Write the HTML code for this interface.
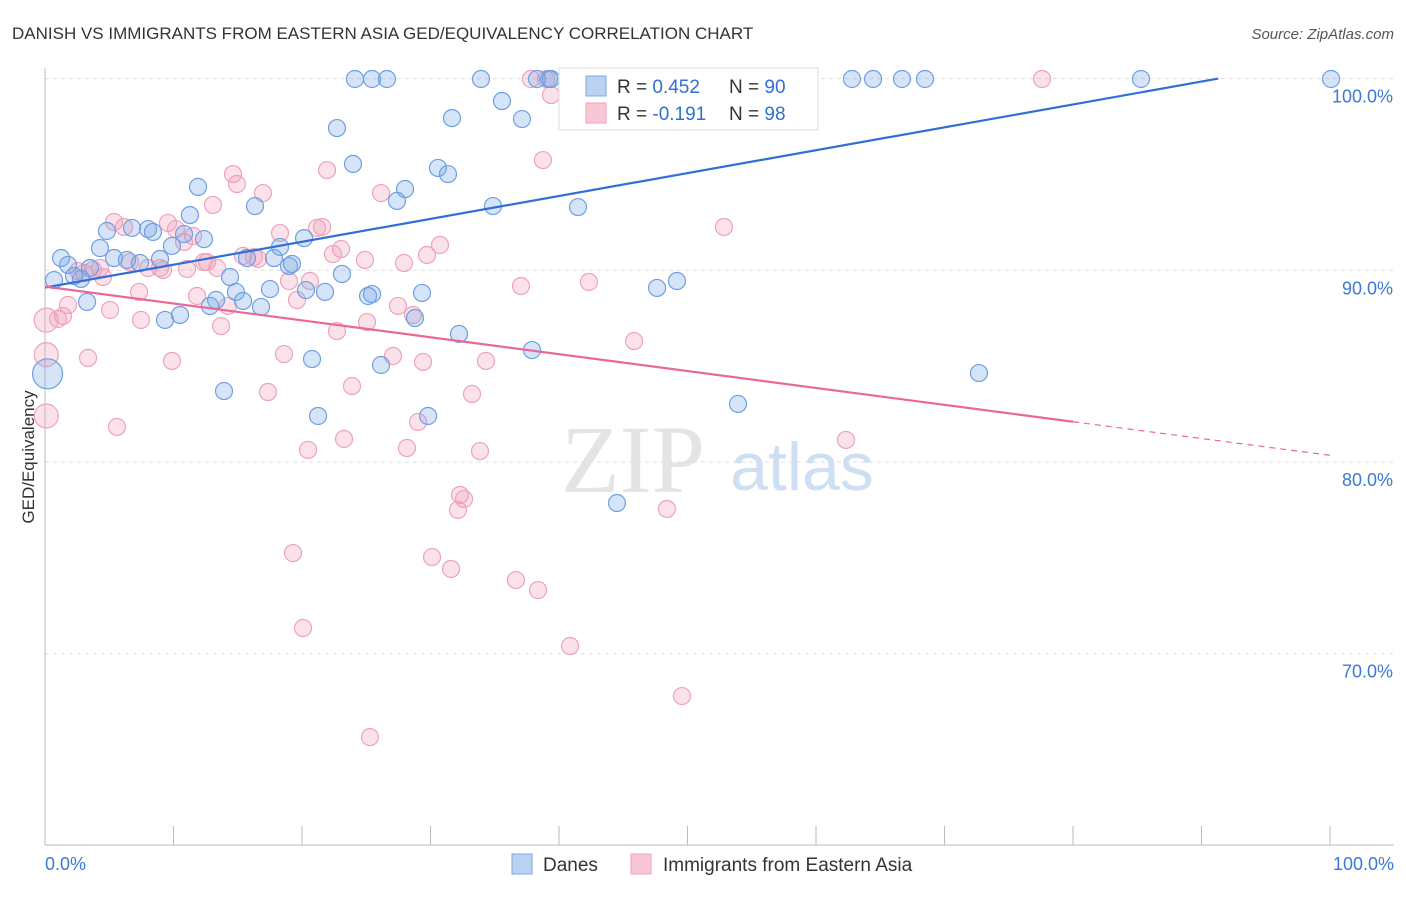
<!DOCTYPE html>
<html><head><meta charset="utf-8"><style>
body{margin:0;background:#fff;font-family:"Liberation Sans",sans-serif;}
</style></head><body>
<svg id="chart" width="1406" height="892" xmlns="http://www.w3.org/2000/svg">
<text x="12" y="39" font-size="17" fill="#333">DANISH VS IMMIGRANTS FROM EASTERN ASIA GED/EQUIVALENCY CORRELATION CHART</text>
<text x="1394" y="39" font-size="15" fill="#555" font-style="italic" text-anchor="end">Source: ZipAtlas.com</text>
<text transform="translate(34,457) rotate(-90)" font-size="17" fill="#333" text-anchor="middle">GED/Equivalency</text>
<g><text x="633" y="492" font-size="96" font-family="Liberation Serif,serif" fill="#e4e4e4" text-anchor="middle">ZIP</text><text x="802" y="490" font-size="68" fill="#cfdff3" text-anchor="middle">atlas</text></g>
<g id="grid"></g><g id="pts"></g><g id="lines"></g>
<g>
<rect x="559" y="68" width="259" height="62" fill="#fff" stroke="#ddd"/>
<rect x="586" y="76" width="20" height="20" fill="#b9d2f3" stroke="#7fa8e0"/>
<rect x="586" y="103" width="20" height="20" fill="#f8c6d5" stroke="#eca3ba"/>
<text x="617" y="93" font-size="19" fill="#333">R = <tspan fill="#2f6fd6">0.452</tspan></text>
<text x="729" y="93" font-size="19" fill="#333">N = <tspan fill="#2f6fd6">90</tspan></text>
<text x="617" y="120" font-size="19" fill="#333">R = <tspan fill="#2f6fd6">-0.191</tspan></text>
<text x="729" y="120" font-size="19" fill="#333">N = <tspan fill="#2f6fd6">98</tspan></text>
</g>
<g>
<rect x="512" y="854" width="20" height="20" fill="#b9d2f3" stroke="#7fa8e0"/>
<text x="543" y="871" font-size="19" fill="#333">Danes</text>
<rect x="631" y="854" width="20" height="20" fill="#f8c6d5" stroke="#eca3ba"/>
<text x="663" y="871" font-size="19" fill="#333">Immigrants from Eastern Asia</text>
</g>
<text x="45" y="870" font-size="18" fill="#3c78d8">0.0%</text>
<text x="1394" y="870" font-size="18" fill="#3c78d8" text-anchor="end">100.0%</text>
</svg>
<script>
const yTicks=[100,90,80,70];
const blueX=[],blueY=[],pinkX=[],pinkY=[];
const bluePx=[[355,79],[372,79],[387,79],[481,79],[537,79],[549,79],[551,79],[852,79],[873,79],[902,79],[925,79],[1141,79],[1331,79],[502,101],[522,119],[452,118],[337,128],[353,164],[438,168],[448,174],[405,189],[397,201],[198,187],[255,206],[190,215],[578,207],[493,206],[107,231],[132,228],[148,229],[153,232],[184,234],[204,239],[100,248],[172,246],[304,238],[280,247],[61,258],[68,265],[114,258],[127,260],[140,263],[160,259],[247,258],[274,258],[289,266],[292,264],[81,279],[54,280],[74,276],[342,274],[230,277],[236,292],[270,289],[306,290],[325,292],[368,296],[372,294],[422,293],[657,288],[677,281],[87,302],[216,300],[210,306],[243,301],[261,307],[180,315],[165,320],[415,318],[459,334],[532,350],[312,359],[381,365],[224,391],[979,373],[318,416],[428,416],[738,404],[617,503],[90,268]];
const pinkPx=[[531,79],[546,79],[1042,79],[551,95],[543,160],[233,174],[237,184],[263,193],[327,170],[381,193],[213,205],[114,222],[124,227],[168,223],[176,229],[193,236],[184,242],[280,233],[317,228],[322,227],[341,249],[333,254],[440,245],[427,255],[404,263],[365,260],[243,256],[254,257],[258,259],[207,262],[204,262],[217,268],[187,269],[160,268],[163,270],[148,268],[130,262],[100,268],[93,270],[78,271],[84,273],[103,277],[139,292],[197,296],[228,306],[297,300],[310,281],[289,281],[221,326],[110,310],[141,320],[68,305],[63,316],[58,319],[367,322],[398,306],[413,315],[337,331],[521,286],[589,282],[634,341],[724,227],[88,358],[172,361],[284,354],[393,356],[423,362],[486,361],[352,386],[268,392],[472,394],[117,427],[344,439],[308,450],[407,448],[418,422],[480,451],[460,495],[464,499],[458,510],[667,509],[846,440],[293,553],[432,557],[451,569],[516,580],[538,590],[303,628],[570,646],[682,696],[370,737]];
const X0=45,X1=1330,Y100=78.6,PX10=191.7;
function xs(v){return X0+v/100*(X1-X0);}
function ys(v){return Y100+(100-v)/10*PX10;}
bluePx.forEach(p=>{blueX.push(+((p[0]-X0)/(X1-X0)*100).toFixed(2));blueY.push(+(100-(p[1]-Y100)/PX10*10).toFixed(2));});
pinkPx.forEach(p=>{pinkX.push(+((p[0]-X0)/(X1-X0)*100).toFixed(2));pinkY.push(+(100-(p[1]-Y100)/PX10*10).toFixed(2));});
const bigBlueX=[0.2],bigBlueY=[84.6];
const bigPinkX=[0.1,0.1,0.1],bigPinkY=[85.6,82.4,87.4];
const NS="http://www.w3.org/2000/svg";
function mk(t,a,parent){const e=document.createElementNS(NS,t);for(const k in a)e.setAttribute(k,a[k]);parent.appendChild(e);return e;}
const grid=document.getElementById('grid');
yTicks.forEach(t=>{
 const l=mk('line',{x1:45,x2:1394,y1:ys(t),y2:ys(t),stroke:'#ddd','stroke-dasharray':'4,4'},grid);
 
 
 const tx=mk('text',{x:1393,y:ys(t)+24,'font-size':18,fill:'#3c78d8','text-anchor':'end'},grid);
 tx.textContent=t.toFixed(1)+'%';
 
 
});
const ax=mk('line',{x1:45,x2:45,y1:68,y2:845,stroke:'#bbb'},grid);


const bx=mk('line',{x1:45,x2:1394,y1:845,y2:845,stroke:'#bbb'},grid);


for(let i=0;i<=10;i++){const t=mk('line',{x1:xs(i*10),x2:xs(i*10),y1:826,y2:845,stroke:'#bbb'},grid);
 
 }
const pts=document.getElementById('pts');
function dot(x,y,r,c){const e=mk('circle',{cx:xs(x),cy:ys(y),r:r,fill:c?'rgba(120,165,230,0.3)':'rgba(240,150,180,0.28)',stroke:c?'#6f9fe3':'#eea3bb','stroke-width':1.2},pts);
 
 }
pinkX.forEach((x,i)=>dot(x,pinkY[i],8.5,false));
bigPinkX.forEach((x,i)=>dot(x,bigPinkY[i],12,false));
blueX.forEach((x,i)=>dot(x,blueY[i],8.5,true));
bigBlueX.forEach((x,i)=>dot(x,bigBlueY[i],15,true));
const lines=document.getElementById('lines');
const bl=mk('line',{x1:xs(0),y1:ys(89.1),x2:xs(91.3),y2:ys(100),stroke:'#2f6fd6','stroke-width':2.2},lines);


const pl=mk('line',{x1:xs(0),y1:ys(89.15),x2:xs(80),y2:ys(82.1),stroke:'#e8689a','stroke-width':2.2},lines);


const pd=mk('line',{x1:xs(80),y1:ys(82.1),x2:xs(100),y2:ys(80.35),stroke:'#e8689a','stroke-width':1.2,'stroke-dasharray':'6,5'},lines);


</script>
</body></html>
